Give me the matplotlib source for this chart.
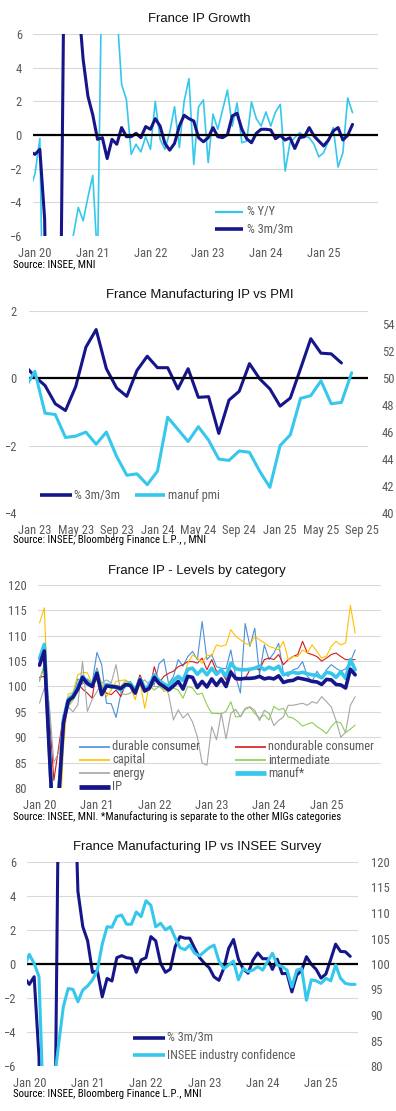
import numpy as np
import matplotlib
matplotlib.use('Agg')
import matplotlib.pyplot as plt
from matplotlib.lines import Line2D
from matplotlib import font_manager as fm

# ---------------- data ----------------
# month index: Jan 2020 = 0
year_tick_labels = ['Jan 20', 'Jan 21', 'Jan 22', 'Jan 23', 'Jan 24', 'Jan 25']
year_tick_months = [0, 12, 24, 36, 48, 60]
pmi_tick_labels = ['Jan 23', 'May 23', 'Sep 23', 'Jan 24', 'May 24', 'Sep 24', 'Jan 25', 'May 25', 'Sep 25']
pmi_tick_months = [36, 40, 44, 48, 52, 56, 60, 64, 68]

# Panel 1: France IP growth, Dec 2019 .. Jul 2025
ip_start = -1
ip_yoy = [-3.2, -2.3, -0.2, -17, -35, -22, -12, -8, -7.5, -5.9,
          -4.3, -5.1, -3.7, -2.4, -7.5, 12, 44, 21, 7.5, 3.0,
          2.1, -1.15, -0.55, -1.0, -0.1, -0.85, 2.0, -0.26, -0.85, 0.14,
          1.68, -0.75, 2.0, 3.35, -1.74, 1.68, 2.08, -1.64, 1.23, 0.34,
          1.5, 2.67, 0.53, 1.9, -0.46, -0.36, 1.96, 0.97, 0.53, 1.37,
          0.53, 1.37, 1.82, -2.14, -0.46, -0.16, 0.14, -0.06, -0.16, -0.55,
          -1.3, -1.05, -0.36, 0.44, -1.9, -1.05, 2.2, 1.33]
ip_3m3m = [-1.0, -1.15, -0.85, -5.0, -22, -24, -20, 9, 22, 15,
           8, 4.5, 2.3, 1.2, -0.26, -0.16, -1.4, -0.26, -0.55, 0.44,
           -0.1, -0.1, 0.1, -0.16, 0.5, 0.34, 0.97, 0.53, -0.5, -0.9,
           -0.5, 0.53, 1.17, 0.97, 0.83, -0.16, -0.4, -0.16, 0.44, -0.1,
           -0.16, 0.02, 1.13, 1.29, 0.34, -0.22, -0.46, 0.1, 0.34, 0.34,
           0.3, -0.22, -0.02, -0.3, -0.16, -0.8, -0.16, -0.1, 0.44, -0.06,
           -0.36, -0.65, -0.3, 0.24, 0.44, -0.3, -0.02, 0.63]

# Manufacturing IP % 3m/3m, Dec 2019 .. Jul 2025
manuf_start = -1
manuf_3m3m = [-0.8, -1.2, -0.75, -5.5, -22, -26, -18, 10, 24, 22,
              14, 4.27, 2.2, 1.36, -0.49, -0.41, -1.93, -0.85, -1.0, 0.37,
              0.49, 0.37, 0.33, -0.49, 0.24, 0.37, 1.61, 1.36, 0.04, -0.49,
              -0.3, 1.02, 1.61, 1.52, 1.52, 0.93, 0.38, 0.05, -0.22, -0.76,
              -0.96, -0.25, 0.92, 1.44, 0.28, -0.29, -0.54, 0.23, 0.65, 0.31,
              0.31, -0.32, 0.28, -0.57, -0.55, -1.64, -0.65, -0.39, 0.43, -0.02,
              -0.32, -0.83, -0.59, 0.28, 1.17, 0.74, 0.72, 0.45]

# Manufacturing PMI, Dec 2022 .. Aug 2025
pmi_start = 35
manuf_pmi = [49.2, 50.5, 47.4, 47.3, 45.6, 45.7, 46.0, 45.1, 46.0, 44.2,
             42.8, 42.9, 42.1, 43.1, 47.1, 46.2, 45.3, 46.4, 45.4, 44.0,
             43.9, 44.6, 44.5, 43.1, 41.9, 45.0, 45.8, 48.5, 48.7, 49.8,
             48.1, 48.2, 50.4]

# INSEE industry confidence, Dec 2019 .. Aug 2025
insee_start = -1
insee_conf = [99.5, 101.9, 100.1, 97.5, 69, 72, 76, 84, 91.6, 95.2,
              95.0, 92.6, 94.9, 95.7, 96.9, 98.8, 103.9, 107.3, 107.2, 109.3,
              109.6, 107.8, 107.8, 110.2, 109.3, 112.4, 111.5, 107.3, 108.0, 106.7,
              107.3, 105.1, 103.2, 102.8, 103.7, 102.1, 101.6, 102.4, 103.2, 103.7,
              100.6, 99.1, 99.8, 100.6, 96.9, 99.1, 98.5, 98.8, 99.5, 98.8,
              100.5, 102.1, 99.8, 99.5, 98.8, 95.5, 98.8, 99.1, 92.9, 96.9,
              96.7, 96.2, 97.2, 96.7, 99.8, 97.2, 96.2, 96.0, 96.0]

# Panel 3: levels by category, Jan 2020 .. Jul 2025
lvl_start = 0
lvl_durable = [101.2, 104.0, 85, 55, 72, 92, 96.0, 98.5, 101.5, 100.5,
               101.5, 100.5, 106.7, 104.3, 96.7, 96.6, 93.9, 98.5, 100.5, 101.0,
               99.5, 100.2, 99.0, 101.0, 100.3, 104.5, 105.4, 100.5, 102.0, 105.3,
               104.0, 105.9, 106.9, 105.3, 112.8, 105.3, 106.3, 103.9, 103.6, 103.5,
               107.2, 102.0, 98.7, 112.4, 107.9, 111.5, 102.3, 108.2, 105.3, 106.6,
               108.5, 102.6, 102.0, 103.3, 103.6, 104.9, 102.0, 101.0, 103.0, 101.6,
               103.3, 104.3, 103.6, 103.0, 103.5, 104.9, 107.2]
lvl_nondurable = [101.8, 102.0, 95, 81.5, 88, 94.5, 96.5, 98.0, 100.5, 99.5,
                  98.7, 97.7, 103.6, 100.0, 98.7, 98.4, 99.3, 98.0, 100.5, 100.7,
                  99.3, 102.3, 100.0, 99.3, 103.9, 100.7, 102.0, 102.6, 103.0, 103.9,
                  104.3, 104.9, 104.9, 104.6, 105.6, 103.3, 105.3, 103.0, 103.0, 101.3,
                  103.3, 101.3, 101.3, 101.6, 103.3, 103.6, 103.3, 105.3, 105.6, 105.3,
                  106.3, 104.3, 105.3, 105.9, 106.3, 108.9, 106.6, 106.3, 105.9, 105.0,
                  105.6, 106.3, 106.6, 105.9, 105.3, 105.3, 105.3]
lvl_capital = [112.5, 115.5, 92, 55, 68, 88, 98.5, 98.8, 102.3, 102.8,
               102.7, 100.5, 103.4, 100.6, 98.0, 99.3, 101.0, 101.2, 101.3, 100.0,
               97.4, 101.0, 95.7, 100.7, 102.0, 101.3, 99.0, 99.3, 101.3, 101.6,
               101.3, 104.6, 106.2, 105.6, 104.6, 106.2, 106.0, 108.2, 107.9, 108.2,
               111.2, 109.9, 109.2, 108.5, 108.2, 109.9, 109.2, 108.6, 107.9, 107.6,
               107.2, 108.9, 105.3, 105.9, 105.9, 107.2, 106.6, 108.2, 106.9, 105.6,
               106.0, 107.9, 108.9, 108.2, 108.6, 116.0, 110.5]
lvl_intermediate = [101.0, 104.5, 92, 75, 82, 93, 96, 97.3, 99.0, 101.0,
                    100.3, 100.5, 101.2, 100.0, 100.3, 99.5, 100.3, 100.0, 101.2, 100.8,
                    99.8, 100.5, 99.8, 100.2, 99.3, 100.0, 99.3, 100.7, 99.7, 99.3,
                    97.7, 100.0, 99.7, 98.4, 98.7, 96.4, 94.7, 94.7, 94.6, 95.1,
                    97.0, 94.0, 94.1, 95.5, 95.9, 94.7, 93.8, 94.4, 93.4, 96.1,
                    95.4, 95.7, 94.0, 93.8, 93.1, 92.2, 92.6, 92.9, 92.1, 91.5,
                    90.7, 92.1, 93.1, 92.8, 90.9, 91.6, 92.4]
lvl_energy = [96.7, 99.7, 97, 85, 87, 93, 96.0, 95.0, 96.4, 104.9,
              95.1, 97.4, 99.0, 100.7, 101.3, 100.7, 104.3, 98.7, 98.4, 98.7,
              100.0, 100.7, 101.3, 100.3, 100.0, 100.0, 100.7, 98.4, 93.4, 95.4,
              93.8, 94.7, 93.0, 90.1, 84.9, 84.5, 92.1, 89.5, 94.7, 89.7,
              94.7, 95.5, 94.0, 95.7, 96.0, 95.3, 93.3, 95.3, 94.7, 92.3,
              93.3, 94.0, 96.3, 96.3, 96.5, 96.7, 96.3, 97.0, 96.7, 98.0,
              97.0, 96.0, 93.3, 90.0, 91.0, 96.3, 98.0]
lvl_manuf = [105.5, 108.3, 89, 69, 78, 93.5, 97.5, 98.3, 100.0, 102.0,
             100.8, 100.3, 103.0, 98.5, 100.4, 100.2, 99.8, 99.3, 100.2, 100.6,
             99.0, 101.5, 99.6, 100.2, 102.3, 101.2, 100.5, 100.0, 101.2, 102.0,
             101.2, 103.4, 103.6, 102.4, 103.4, 102.3, 103.6, 102.4, 103.3, 102.0,
             104.6, 103.5, 103.3, 103.3, 103.4, 103.6, 104.0, 103.3, 103.8, 103.4,
             104.0, 102.3, 102.6, 102.8, 102.6, 102.8, 102.5, 102.3, 102.2, 101.7,
             102.8, 102.6, 101.8, 102.9, 101.6, 105.3, 103.3]
lvl_ip = [104.2, 107.0, 88, 70, 78, 92.8, 97.2, 97.9, 99.5, 101.8,
          100.6, 100.0, 102.6, 98.4, 100.1, 100.0, 99.9, 99.6, 100.4, 100.2,
          98.7, 101.3, 99.1, 99.7, 101.8, 100.6, 100.0, 99.3, 100.1, 101.0,
          99.5, 102.0, 101.8, 99.8, 101.0, 99.9, 101.5, 100.2, 101.5, 100.0,
          102.8, 101.6, 101.5, 101.6, 101.6, 101.7, 102.0, 101.5, 101.7, 101.5,
          102.1, 100.8, 101.1, 101.2, 101.7, 101.5, 101.3, 101.0, 100.9, 100.4,
          101.4, 101.3, 100.4, 100.3, 99.7, 103.4, 102.3]

# ---------------- fonts ----------------
W, H = 396, 1111
NAVY = '#16168A'
CYAN = '#35C8EC'
GRID = '#D9D9D9'
TXT = '#595959'


def _weight(f):
    w = f.weight
    if isinstance(w, (int, float)):
        return w
    return {'normal': 400, 'regular': 400, 'book': 400, 'medium': 500}.get(str(w).lower(), 700)


def pick_narrow():
    cands = []
    for f in fm.fontManager.ttflist:
        n = f.name.lower()
        fn = f.fname.lower()
        st = str(f.stretch).lower()
        if 'mono' in n or 'serif' in n or 'cjk' in n or 'mono' in fn:
            continue
        if f.style != 'normal' or _weight(f) != 400:
            continue
        cond = ('narrow' in n or 'condensed' in n or 'narrow' in fn or
                'condensed' in fn or st in ('condensed', 'semi-condensed'))
        if not cond or 'extra' in fn or 'ultra' in fn or 'extra' in st:
            continue
        score = 0
        if 'liberation' in n:
            score = 5
        elif 'noto' in n or 'roboto' in n or 'open' in n:
            score = 4
        elif 'dejavu' in n:
            score = 3
        else:
            score = 1
        if 'semi' in fn or 'semi' in st:
            score -= 0.5
        cands.append((score, f.fname))
    if cands:
        cands.sort(reverse=True)
        return cands[0][1]
    return None


narrow_path = pick_narrow()
fig = plt.figure(figsize=(W / 100, H / 100), dpi=100)
fig.patch.set_facecolor('white')
renderer = fig.canvas.get_renderer()


def narrow_fp(size):
    if narrow_path:
        return fm.FontProperties(fname=narrow_path, size=size)
    return fm.FontProperties(family=['Liberation Sans', 'DejaVu Sans'], size=size)


def reg_fp(size):
    return fm.FontProperties(family=['Liberation Sans', 'DejaVu Sans'], size=size)


def text_w(s, fp):
    t = fig.text(0, 0, s, fontproperties=fp)
    w = t.get_window_extent(renderer).width
    t.remove()
    return w


def fit_size(s, target_px, maxsize, maker):
    w = text_w(s, maker(10))
    return min(maxsize, 10 * target_px / w)


TICK_SZ = fit_size('Jan 20  Jan 21', 87.5, 9.0, narrow_fp)
LEG_SZ = fit_size('nondurable consumer', 106, 9.5, narrow_fp)
SRC_SZ = fit_size('Source: INSEE, MNI. *Manufacturing is separate to the other MIGs categories', 324, 8.5, narrow_fp)
TTL_SZ = fit_size('France IP Growth', 103, 11, reg_fp)


def ax_px(x0, x1, y0, y1):
    return fig.add_axes([x0 / W, 1 - y1 / H, (x1 - x0) / W, (y1 - y0) / H])


def style(ax, yticks, xpad=8, ypad=8, grid=True):
    for s in ax.spines.values():
        s.set_visible(False)
    ax.set_yticks(yticks)
    ax.tick_params(axis='both', length=0, labelcolor=TXT)
    ax.tick_params(axis='x', pad=xpad)
    ax.tick_params(axis='y', pad=ypad)
    if grid:
        ax.yaxis.grid(True, color=GRID, lw=0.8)
    ax.set_axisbelow(True)


def fix_ticks(ax):
    for lab in ax.get_xticklabels() + ax.get_yticklabels():
        lab.set_fontproperties(narrow_fp(TICK_SZ))


def months(start, n):
    return np.arange(start, start + n)


def title(x, y, s):
    fig.text(x / W, 1 - y / H, s, ha='center', va='center',
             fontproperties=reg_fp(TTL_SZ), color='#111111')


def source(y, s):
    fig.text(13 / W, 1 - y / H, s, ha='left', va='center',
             fontproperties=narrow_fp(SRC_SZ), color='black')


def leg(x0, x1, y, color, lw, label, tx):
    fig.add_artist(Line2D([x0 / W, x1 / W], [1 - y / H, 1 - y / H], color=color,
                          lw=lw, transform=fig.transFigure, solid_capstyle='butt'))
    fig.text(tx / W, 1 - y / H, label, ha='left', va='center',
             fontproperties=narrow_fp(LEG_SZ), color=TXT)


LK = dict(solid_joinstyle='round', solid_capstyle='round')

# ---------------- Panel 1 ----------------
ax1 = ax_px(33, 378, 34, 236)
ax1.plot(months(ip_start, len(ip_yoy)), ip_yoy, color=CYAN, lw=1.2, **LK)
ax1.plot(months(ip_start, len(ip_3m3m)), ip_3m3m, color=NAVY, lw=2.2, **LK)
ax1.axhline(0, color='black', lw=1.6)
ax1.set_xlim(-0.42, 71.3)
ax1.set_ylim(-6, 6)
ax1.set_xticks(year_tick_months)
ax1.set_xticklabels(year_tick_labels)
style(ax1, np.arange(-6, 7, 2))
fix_ticks(ax1)
title(199, 19, 'France IP Growth')
leg(215, 243, 212, CYAN, 1.6, '% Y/Y', 247)
leg(215, 243, 229, NAVY, 2.6, '% 3m/3m', 247)
source(264, 'Source: INSEE, MNI')

# ---------------- Panel 2 ----------------
ax2 = ax_px(29, 368, 310.7, 513)
ax2.plot(months(manuf_start, len(manuf_3m3m)), manuf_3m3m, color=NAVY, lw=2.2, **LK)
ax2.axhline(0, color='black', lw=1.6)
ax2.set_xlim(35.43, 68.6)
ax2.set_ylim(-4, 2)
ax2.set_xticks(pmi_tick_months)
ax2.set_xticklabels(pmi_tick_labels)
style(ax2, [-4, -2, 0, 2], ypad=9)
fix_ticks(ax2)
ax2r = ax2.twinx()
ax2r.plot(months(pmi_start, len(manuf_pmi)), manuf_pmi, color=CYAN, lw=2.2, **LK)
ax2r.set_ylim(40, 55)
style(ax2r, np.arange(40, 55, 2), ypad=10, grid=False)
ax2r.set_xlim(35.43, 68.6)
fix_ticks(ax2r)
title(200, 295, 'France Manufacturing IP vs PMI')
leg(40, 72, 495, NAVY, 2.6, '% 3m/3m', 74)
leg(135, 165, 495, CYAN, 2.6, 'manuf pmi', 168)
source(540, 'Source: INSEE, Bloomberg Finance L.P., , MNI')

# ---------------- Panel 3 ----------------
ax3 = ax_px(37.7, 381, 585, 788)
xl = months(lvl_start, len(lvl_ip))
series3 = [
    (lvl_durable, '#4A8FDA', 0.8, 'durable consumer'),
    (lvl_nondurable, '#D41A1A', 0.8, 'nondurable consumer'),
    (lvl_capital, '#FFC000', 0.8, 'capital'),
    (lvl_intermediate, '#8CCF50', 0.8, 'intermediate'),
    (lvl_energy, '#A6A6A6', 0.8, 'energy'),
    (lvl_manuf, CYAN, 2.6, 'manuf*'),
    (lvl_ip, NAVY, 2.6, 'IP'),
]
for vals, c, lw, lab in series3:
    ax3.plot(xl, vals, color=c, lw=lw, **LK)
ax3.set_xlim(-0.38, 71.4)
ax3.set_ylim(80, 120)
ax3.set_xticks(year_tick_months)
ax3.set_xticklabels(year_tick_labels)
style(ax3, np.arange(80, 121, 5))
fix_ticks(ax3)
title(197, 571, 'France IP - Levels by category')
rows = [746.7, 760, 773.3, 787]
for r, k in zip(rows, [0, 2, 4, 6]):
    _, c, lw, lab = series3[k]
    leg(79, 110, r, c, 1.2 if lw < 2 else 3.4, lab, 112)
for r, k in zip(rows, [1, 3, 5]):
    _, c, lw, lab = series3[k]
    leg(235, 266, r, c, 1.2 if lw < 2 else 3.4, lab, 268)
source(817, 'Source: INSEE, MNI. *Manufacturing is separate to the other MIGs categories')

# ---------------- Panel 4 ----------------
ax4 = ax_px(27, 358, 862, 1066)
ax4.plot(months(manuf_start, len(manuf_3m3m)), manuf_3m3m, color=NAVY, lw=2.2, **LK)
ax4.axhline(0, color='black', lw=1.6)
ax4.set_xlim(-0.47, 67.6)
ax4.set_ylim(-6, 6)
ax4.set_xticks(year_tick_months)
ax4.set_xticklabels(year_tick_labels)
style(ax4, np.arange(-6, 7, 2))
fix_ticks(ax4)
ax4r = ax4.twinx()
ax4r.plot(months(insee_start, len(insee_conf)), insee_conf, color=CYAN, lw=2.2, **LK)
ax4r.set_ylim(80, 120)
ax4r.set_xlim(-0.47, 67.6)
style(ax4r, np.arange(80, 121, 5), ypad=9, grid=False)
fix_ticks(ax4r)
title(197, 847, 'France Manufacturing IP vs INSEE Survey')
leg(133, 165, 1038, NAVY, 2.6, '% 3m/3m', 167)
leg(133, 165, 1055, CYAN, 2.6, 'INSEE industry confidence', 167)
source(1094, 'Source: INSEE, Bloomberg Finance L.P., MNI')

fig.savefig('out.png', dpi=100, facecolor='white')
